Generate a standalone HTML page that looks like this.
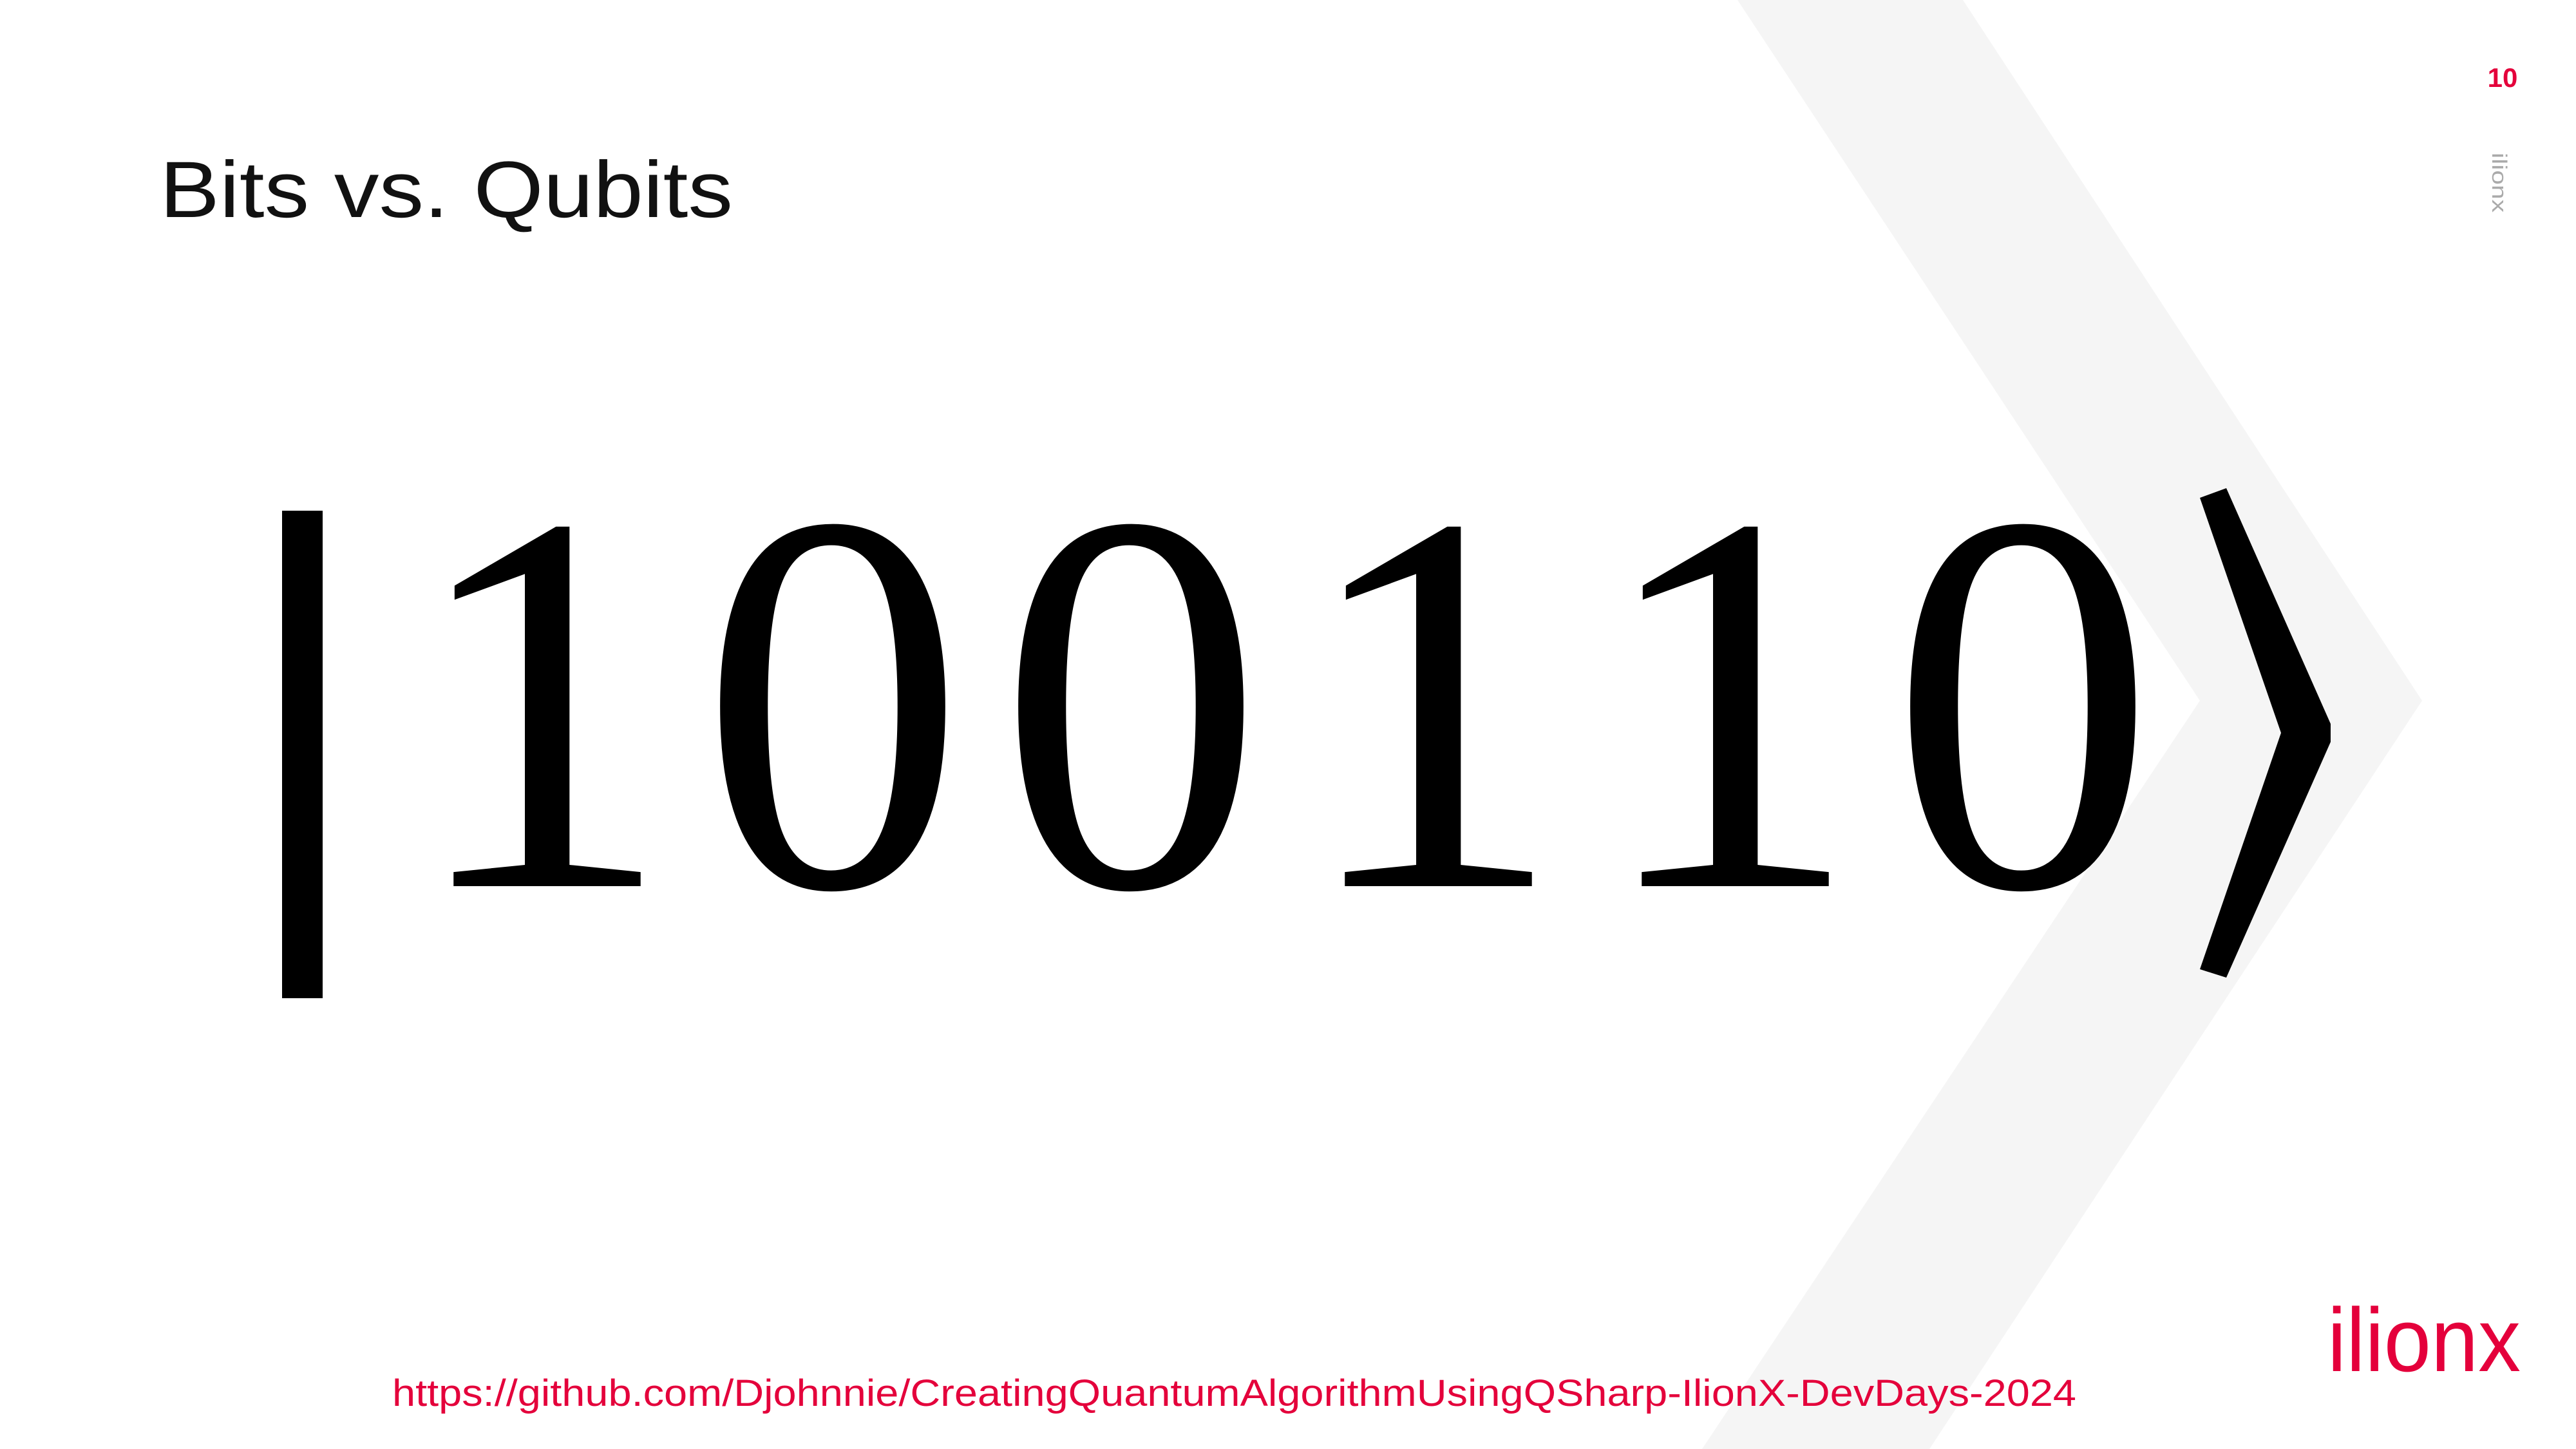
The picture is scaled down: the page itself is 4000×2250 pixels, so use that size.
<!DOCTYPE html>
<html><head><meta charset="utf-8"><style>
html,body{margin:0;padding:0;background:#fff}
svg{display:block}
</style></head><body>
<svg width="4000" height="2250" viewBox="0 0 4000 2250" xmlns="http://www.w3.org/2000/svg">
<polygon points="2698,0 3048,0 3761,1088 2996,2250 2643,2250 3416,1088" fill="#f5f5f5"/>
<text x="248" y="337" font-family="Liberation Sans, sans-serif" font-size="124" fill="#111" textLength="890" lengthAdjust="spacingAndGlyphs">Bits vs. Qubits</text>
<text x="3886" y="135" text-anchor="middle" font-family="Liberation Sans, sans-serif" font-weight="bold" font-size="42" fill="#e4003b">10</text>
<text transform="translate(3870,237) rotate(90)" font-family="Liberation Sans, sans-serif" font-size="32" fill="#aaa" textLength="93" lengthAdjust="spacingAndGlyphs">ilionx</text>
<g>
<rect x="438" y="793" width="63" height="757" fill="#000"/>
<g font-family="Liberation Serif, serif" font-size="825" fill="#000" text-anchor="middle" transform="translate(0,1376) scale(1,1.025) translate(0,-1376)">
<text x="838" y="1376">1</text>
<text x="1293" y="1376">0</text>
<text x="1756" y="1376">0</text>
<text x="2222" y="1376">1</text>
<text x="2683" y="1376">1</text>
<text x="3141" y="1376">0</text>
</g>
<polygon points="3416,773 3457,758 3619,1124 3619,1152 3457,1518 3416,1505 3542,1138" fill="#000"/>
</g>
<text x="3614" y="2129" font-family="Liberation Sans, sans-serif" font-size="140" fill="#e4003b" textLength="300" lengthAdjust="spacingAndGlyphs">ilionx</text>
<text x="609" y="2183" font-family="Liberation Sans, sans-serif" font-size="58" fill="#e4003b" textLength="2615" lengthAdjust="spacingAndGlyphs">https://github.com/Djohnnie/CreatingQuantumAlgorithmUsingQSharp-IlionX-DevDays-2024</text>
</svg>
</body></html>
